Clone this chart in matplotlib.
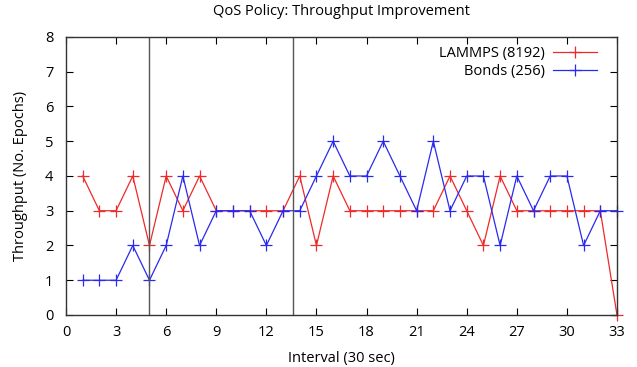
import matplotlib
matplotlib.use("Agg")
import matplotlib.pyplot as plt

plt.rcParams["font.family"] = ["Open Sans", "DejaVu Sans"]

intervals = list(range(1, 34))
lammps = [4, 3, 3, 4, 2, 4, 3, 4, 3, 3, 3, 3, 3, 4, 2, 4, 3, 3, 3, 3, 3, 3, 4, 3, 2, 4, 3, 3, 3, 3, 3, 3, 0]
bonds = [1, 1, 1, 2, 1, 2, 4, 2, 3, 3, 3, 2, 3, 3, 4, 5, 4, 4, 5, 4, 3, 5, 3, 4, 4, 2, 4, 3, 4, 4, 2, 3, 3]
phase_marks = [5, 13.6]
xticks = list(range(0, 34, 3))
yticks = list(range(0, 9))

fig = plt.figure(figsize=(6.37, 3.67), dpi=100)
ax = fig.add_axes([0.1036, 0.1417, 0.865, 0.7575])

ax.plot(intervals, lammps, color="#ee2a2a", lw=0.9, marker="+", ms=9, mew=0.9,
        label="LAMMPS (8192)", clip_on=False)
ax.plot(intervals, bonds, color="#2a2aee", lw=0.9, marker="+", ms=9, mew=0.9,
        label="Bonds (256)", clip_on=False)
for xm in phase_marks:
    ax.axvline(xm, color="#555555", lw=1)

ax.set_xlim(0, 33)
ax.set_ylim(0, 8)
ax.set_xticks(xticks)
ax.set_yticks(yticks)
ax.tick_params(direction="in", top=True, right=True, length=5, labelsize=10.5)
ax.tick_params(axis="x", pad=7)
ax.tick_params(axis="y", pad=9)
for s in ax.spines.values():
    s.set_color("#333333")
    s.set_linewidth(1)

ax.set_title("QoS Policy: Throughput Improvement", fontsize=10.5, pad=16)
ax.set_xlabel("Interval (30 sec)", fontsize=10.5, labelpad=8)
ax.set_ylabel("Throughput (No. Epochs)", fontsize=10.5, labelpad=12)
ax.legend(loc="upper right", bbox_to_anchor=(0.98, 1.0), frameon=False, markerfirst=False,
          fontsize=10.5, handlelength=3, handletextpad=0.6, borderaxespad=0.2, labelspacing=0.25)

fig.savefig("out.png", dpi=100)
